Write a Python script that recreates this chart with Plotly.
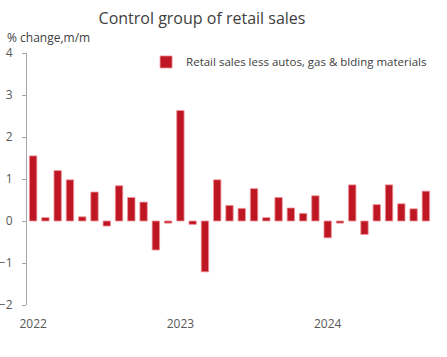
import plotly.graph_objects as go

months = ["Jan 2022","Feb 2022","Mar 2022","Apr 2022","May 2022","Jun 2022",
          "Jul 2022","Aug 2022","Sep 2022","Oct 2022","Nov 2022","Dec 2022",
          "Jan 2023","Feb 2023","Mar 2023","Apr 2023","May 2023","Jun 2023",
          "Jul 2023","Aug 2023","Sep 2023","Oct 2023","Nov 2023","Dec 2023",
          "Jan 2024","Feb 2024","Mar 2024","Apr 2024","May 2024","Jun 2024",
          "Jul 2024","Aug 2024","Sep 2024"]
values = [1.55, 0.08, 1.20, 0.98, 0.10, 0.69, -0.12, 0.84, 0.56, 0.45, -0.69, -0.05,
          2.63, -0.08, -1.21, 0.98, 0.37, 0.30, 0.77, 0.08, 0.56, 0.31, 0.18, 0.60,
          -0.40, -0.05, 0.86, -0.32, 0.39, 0.86, 0.41, 0.29, 0.71]
year_ticks = [0, 12, 24]
year_labels = ["2022", "2023", "2024"]
half_year_ticks = [5.5, 11.5, 17.5, 23.5, 29.5]
series_name = "Retail sales less autos, gas & blding materials"

x_idx = list(range(len(values)))
FONT = "Open Sans"

fig = go.Figure()
fig.add_trace(go.Bar(
    x=x_idx, y=values, name=series_name, width=0.6,
    marker=dict(color="#BE1622", line=dict(color="#EE9096", width=0.8)),
    hovertext=months, showlegend=True,
))

fig.update_layout(
    width=447, height=357,
    margin=dict(l=27, r=15, t=53, b=52, autoexpand=False),
    paper_bgcolor="white", plot_bgcolor="white",
    font=dict(family=FONT, size=12, color="#595959"),
    title=dict(text="Control group of retail sales", x=202/447, xanchor="center",
               y=1-18/357, yanchor="middle", yref="container",
               font=dict(family=FONT, size=16, color="#404040")),
    showlegend=True,
    legend=dict(x=0.294, y=1.022, xanchor="left", yanchor="top",
                bgcolor="rgba(0,0,0,0)", font=dict(size=11.5, color="#404040")),
    bargap=0.4,
    xaxis=dict(range=[-0.5, 32.5], tickvals=year_ticks, ticktext=year_labels,
               showline=False, showgrid=False, zeroline=False, ticks="",
               automargin=False,
               ticklabelstandoff=10, tickfont=dict(size=12, color="#595959")),
    xaxis2=dict(range=[-0.5, 32.5], overlaying="x", anchor="free", position=1/3,
                side="bottom", showline=True, linecolor="#BFBFBF", linewidth=2,
                ticks="outside", ticklen=3, tickcolor="#A6A6A6", tickwidth=1,
                tickvals=half_year_ticks, showticklabels=False, showgrid=False,
                zeroline=False, automargin=False),
    yaxis=dict(range=[-2, 4], tickvals=[-2, -1, 0, 1, 2, 3, 4], showgrid=False,
               zeroline=False, showline=True, linecolor="#A6A6A6", linewidth=1,
               ticks="outside", ticklen=4, tickcolor="#A6A6A6", automargin=False,
               ticklabelstandoff=7,
               tickfont=dict(size=12, color="#595959")),
)
fig.add_annotation(text="% change,m/m", xref="paper", yref="paper",
                   x=(5-27)/405, y=(305-37)/252, xanchor="left", yanchor="middle",
                   showarrow=False, font=dict(family=FONT, size=12, color="#404040"))

fig.write_html("out.html", config={"displayModeBar": False},
               post_script="document.body.style.margin='0px';")
